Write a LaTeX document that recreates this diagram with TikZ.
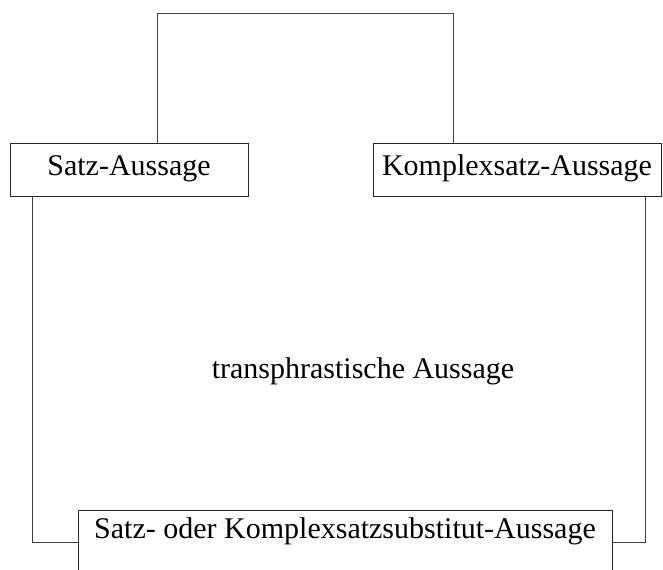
\documentclass[tikz,border=0pt]{standalone}
\usepackage{fontspec}
\setmainfont{Liberation Serif}
\begin{document}
\begin{tikzpicture}[x=0.75pt,y=-0.75pt,
  every node/.style={font=\fontsize{22.5pt}{27pt}\selectfont},
  boxnode/.style={draw=black!85,line width=0.75pt,inner sep=0pt,text height=15pt},
  conn/.style={draw=black!75,line width=0.75pt}]
\clip (0,0) rectangle (663,569);
\fill[white] (0,0) rectangle (663,569);
\node[boxnode,minimum width=178.5pt,minimum height=39.75pt,text depth=6.75pt] (satz) at (129,169.5) {Satz-Aussage};
\node[boxnode,minimum width=216pt,minimum height=39.75pt,text depth=6.75pt] (komplex) at (517,169.5) {Komplexsatz-Aussage};
\node[boxnode,minimum width=400.5pt,minimum height=48pt,text depth=21pt] (subst) at (345,542) {Satz- oder Komplexsatzsubstitut-Aussage};
\node[anchor=base] (trans) at (363,378) {transphrastische Aussage};
\coordinate (t1) at (157,13);
\coordinate (t2) at (453,13);
\coordinate (l1) at (32,0);
\coordinate (r1) at (645,0);
\draw[conn] (satz.north -| t1) -- (t1) -- (t2) -- (komplex.north -| t2);
\draw[conn] (satz.south -| l1) |- (subst.west);
\draw[conn] (komplex.south -| r1) |- (subst.east);
\end{tikzpicture}
\end{document}
